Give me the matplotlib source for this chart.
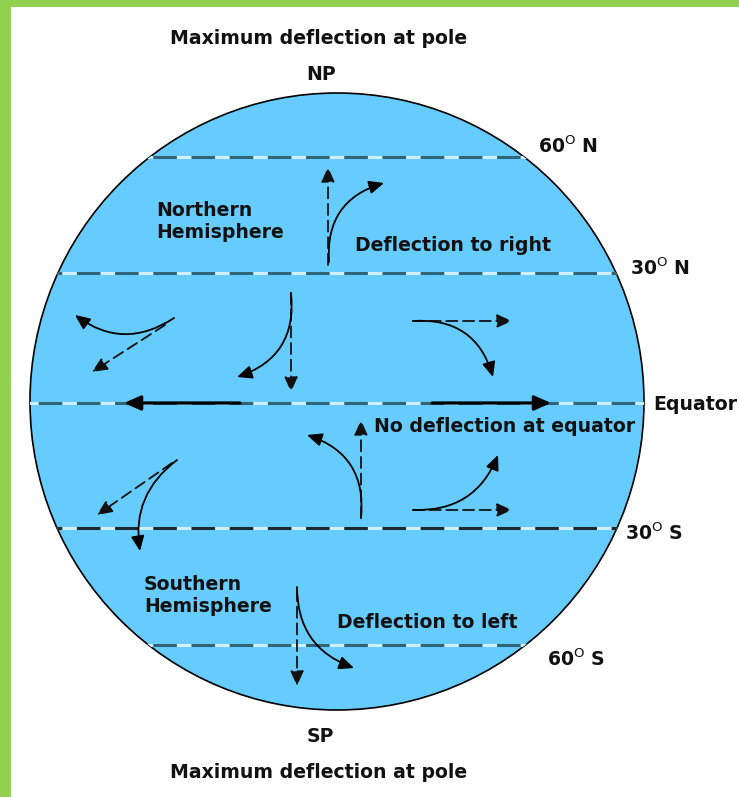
import matplotlib
matplotlib.use("Agg")
import matplotlib.pyplot as plt
from matplotlib.patches import Ellipse, Rectangle, FancyArrowPatch

plt.rcParams['lines.scale_dashes'] = False
plt.rcParams['font.family'] = ['DejaVu Sans']

W, H = 739, 797

# globe (pixel units of the picture)
globe_center = (337, 401.5)
globe_size = (614, 617)

# latitude lines
lat_y = [157, 273, 403, 528, 645]
lat_color = ['#2f6479', '#2f6479', '#2f6479', '#1c2a30', '#2f6479']
lat_labels = ['60$^{\\mathrm{O}}$ N', '30$^{\\mathrm{O}}$ N', 'Equator',
              '30$^{\\mathrm{O}}$ S', '60$^{\\mathrm{O}}$ S']
lat_label_x = [538, 630, 653, 625, 547]
lat_label_y = [146, 268, 404, 533, 659]

# other text
texts = ['Maximum deflection at pole', 'NP', 'SP', 'Maximum deflection at pole',
         'Northern', 'Hemisphere', 'Deflection to right',
         'No deflection at equator',
         'Southern', 'Hemisphere', 'Deflection to left']
text_x = [319, 321, 320, 319, 156, 156, 355, 374, 144, 144, 337]
text_y = [38, 74, 737, 773, 210, 232, 245, 426, 584, 607, 623]
text_ha = ['center', 'center', 'center', 'center', 'left', 'left', 'left',
           'left', 'left', 'left', 'left']

# straight (undeflected) paths, dashed
dash_start = [(328, 265), (165, 325), (291, 293), (413, 321),
              (361, 518), (413, 510), (172, 463), (297, 590)]
dash_end = [(328, 167), (92, 372), (291, 392), (512, 321),
            (361, 420), (512, 510), (97, 515), (297, 686)]

# deflected paths, solid curves
curve_start = [(329, 262), (174, 318), (291, 293), (413, 321),
               (361, 518), (413, 510), (177, 460), (297, 587)]
curve_end = [(384, 183), (75, 315), (237, 377), (493, 377),
             (307, 435), (498, 455), (140, 551), (354, 668)]
curve_rad = [-0.4, -0.35, -0.4, -0.4, 0.4, 0.35, 0.3, 0.35]

# equator arrows
eq_start = [(240, 403), (432, 403)]
eq_end = [(124, 403), (551, 403)]

fig = plt.figure(figsize=(W / 100, H / 100), dpi=100)
ax = fig.add_axes([0, 0, 1, 1])
ax.set_xlim(0, W)
ax.set_ylim(H, 0)
ax.axis('off')

# green frame
ax.add_patch(Rectangle((0, 0), 11, H, color='#92d050', lw=0))
ax.add_patch(Rectangle((0, 0), W, 7, color='#92d050', lw=0))

globe = Ellipse(globe_center, globe_size[0], globe_size[1],
                facecolor='#66ccff', edgecolor='black', lw=1.2, zorder=1)
ax.add_patch(globe)

for y, c in zip(lat_y, lat_color):
    l1, = ax.plot([0, W], [y, y], color='#cdefff', lw=2.2, zorder=2)
    l2, = ax.plot([0, W], [y, y], color=c, lw=2.2, zorder=3,
                  dashes=(17, 10.5))
    l1.set_clip_path(globe)
    l2.set_clip_path(globe)

head = '-|>,head_length=0.9,head_width=0.4'

for s, e in zip(dash_start, dash_end):
    ax.add_patch(FancyArrowPatch(s, e, arrowstyle=head, mutation_scale=10,
                                 color='#111111', lw=1.3, linestyle=(0, (8, 4)),
                                 shrinkA=0, shrinkB=0, zorder=4))

for s, e, r in zip(curve_start, curve_end, curve_rad):
    ax.add_patch(FancyArrowPatch(s, e, arrowstyle=head, mutation_scale=10,
                                 connectionstyle='arc3,rad=%s' % r,
                                 color='black', lw=1.3,
                                 shrinkA=0, shrinkB=0, zorder=5))

for s, e in zip(eq_start, eq_end):
    ax.add_patch(FancyArrowPatch(s, e, arrowstyle=head, mutation_scale=11,
                                 color='black', lw=2.3,
                                 shrinkA=0, shrinkB=0, zorder=5))

fs = 13.6
for t, x, y, ha in zip(texts, text_x, text_y, text_ha):
    ax.text(x, y, t, ha=ha, va='center', fontsize=fs, fontweight='bold',
            color='#111111', zorder=6)

for t, x, y in zip(lat_labels, lat_label_x, lat_label_y):
    ax.text(x, y, t, ha='left', va='center', fontsize=fs, fontweight='bold',
            color='#111111', zorder=6)

fig.savefig('out.png', dpi=100, facecolor='white')
